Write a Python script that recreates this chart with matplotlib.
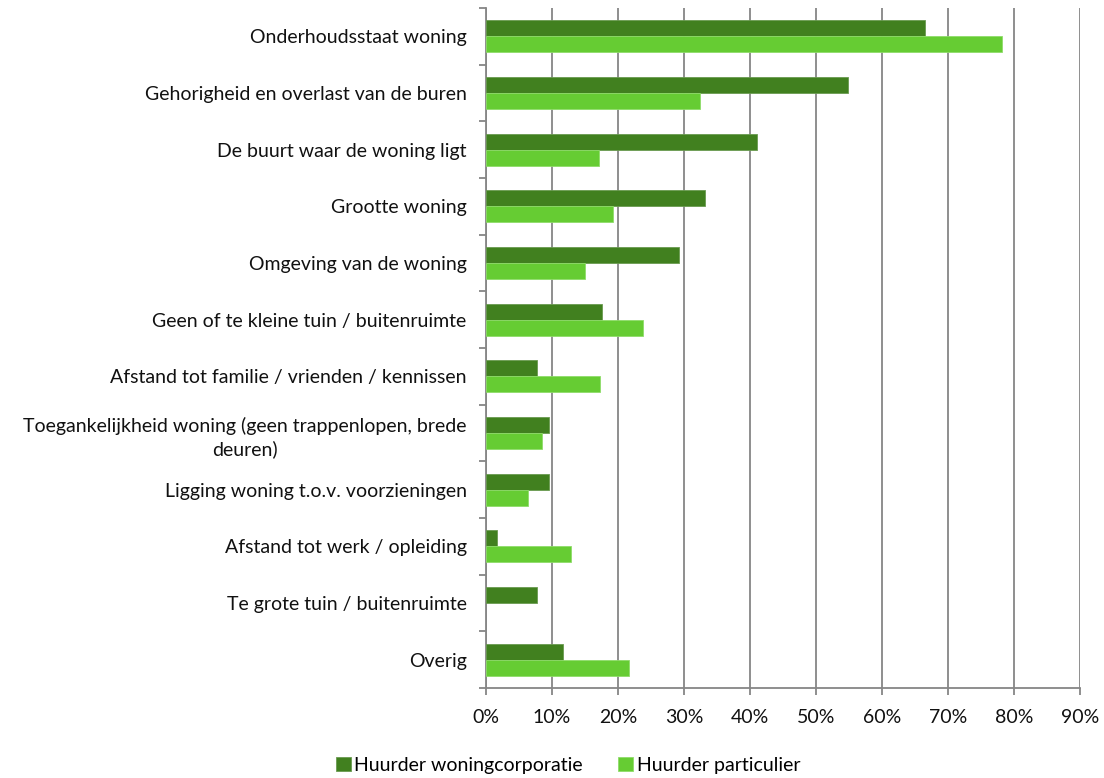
import matplotlib
matplotlib.use("Agg")
import matplotlib.pyplot as plt
import numpy as np
from matplotlib.ticker import MultipleLocator, FuncFormatter

plt.rcParams['font.family'] = ['Lato', 'DejaVu Sans']

categories = [
    "Onderhoudsstaat woning",
    "Gehorigheid en overlast van de buren",
    "De buurt waar de woning ligt",
    "Grootte woning",
    "Omgeving van de woning",
    "Geen of te kleine tuin / buitenruimte",
    "Afstand tot familie / vrienden / kennissen",
    "Toegankelijkheid woning (geen trappenlopen, brede\ndeuren)",
    "Ligging woning t.o.v. voorzieningen",
    "Afstand tot werk / opleiding",
    "Te grote tuin / buitenruimte",
    "Overig",
]
corporatie = [66.5, 54.8, 41.0, 33.2, 29.3, 17.5, 7.7, 9.6, 9.6, 1.7, 7.7, 11.6]
particulier = [78.2, 32.4, 17.1, 19.3, 15.0, 23.8, 17.2, 8.5, 6.3, 12.9, 0.0, 21.6]
series_names = ["Huurder woningcorporatie", "Huurder particulier"]

dark = "#41801F"
light = "#66CC33"
grid_c = "#868686"

fig = plt.figure(figsize=(11.04, 7.78), dpi=100)
ax = fig.add_axes([486/1104, 1-688/778, (1080-486)/1104, (688-8)/778])

n = len(categories)
y = np.arange(n)
h = 0.28
lw1 = [0.6 if v > 0 else 0 for v in corporatie]
lw2 = [0.6 if v > 0 else 0 for v in particulier]
b1 = ax.barh(y - h/2, corporatie, height=h, color=dark, edgecolor="#6a9a50", linewidth=lw1, label=series_names[0], zorder=3)
b2 = ax.barh(y + h/2, particulier, height=h, color=light, edgecolor="#8fdc6a", linewidth=lw2, label=series_names[1], zorder=3)

ax.set_ylim(n - 0.5, -0.5)
ax.set_xlim(0, 90)

ax.xaxis.set_major_locator(MultipleLocator(10))
ax.xaxis.set_major_formatter(FuncFormatter(lambda v, p: f"{int(round(v))}%"))
ax.grid(axis="x", color=grid_c, linewidth=1.3, zorder=0)
ax.set_axisbelow(True)

ax.set_yticks(y)
ax.set_yticklabels(categories, multialignment="center", linespacing=1.35)
ax.set_yticks(np.arange(n + 1) - 0.5, minor=True)
ax.tick_params(axis="y", which="major", length=0, pad=14, labelsize=14, labelcolor="#111111")
ax.tick_params(axis="y", which="minor", length=5, color=grid_c, width=1.3)
ax.tick_params(axis="x", which="major", length=5, color=grid_c, width=1.3, labelsize=14, pad=10, labelcolor="#111111")

for s in ["top", "right"]:
    ax.spines[s].set_visible(False)
for s in ["left", "bottom"]:
    ax.spines[s].set_color(grid_c)
    ax.spines[s].set_linewidth(1.3)

fig.legend(handles=[b1, b2], labels=series_names, loc="center", bbox_to_anchor=(568/1104, 1-765/778),
           ncol=2, frameon=False, fontsize=14, handlelength=0.75, handleheight=0.75,
           handletextpad=0.2, columnspacing=1.8)

fig.savefig("out.png", dpi=100)
